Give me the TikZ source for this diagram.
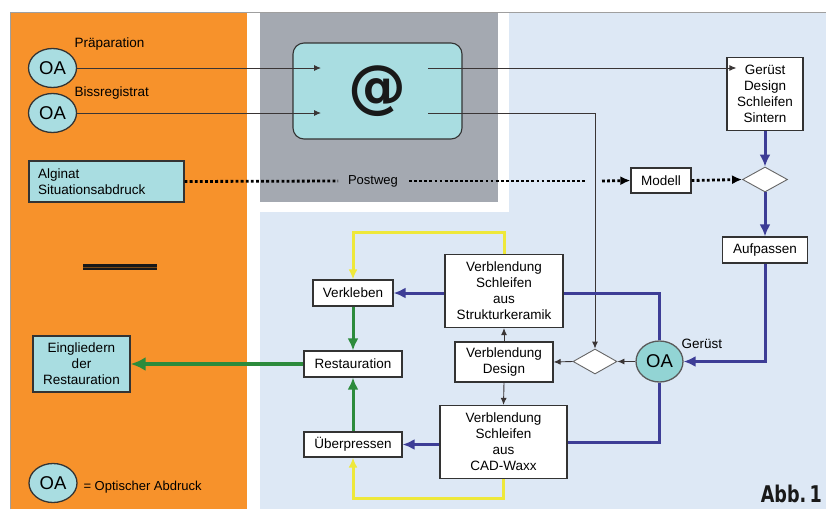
\documentclass[tikz,border=0pt]{standalone}
\usepackage{fontspec}
\setmainfont{Liberation Sans}
\newfontfamily\heavyfont{DejaVu Sans}
\newfontfamily\condfont{DejaVu Sans Condensed}
\usetikzlibrary{shapes.geometric,arrows.meta}

\definecolor{orangebg}{HTML}{F7922B}
\definecolor{skybg}{HTML}{DDE8F5}
\definecolor{panelgray}{HTML}{A4A9B1}
\definecolor{cyanfill}{HTML}{A9DDE1}
\definecolor{oateal}{HTML}{92D4D4}
\definecolor{flowblue}{HTML}{3D3D96}
\definecolor{flowgreen}{HTML}{2C8B3C}
\definecolor{flowyellow}{HTML}{EEE83A}
\definecolor{linedark}{HTML}{3A3535}
\definecolor{boxedge}{HTML}{333333}

\begin{document}
\begin{tikzpicture}[x=1pt,y=-1pt,
  txt/.style={font=\fontsize{13.5}{16}\selectfont},
  wbox/.style={draw=boxedge, line width=1.2pt, fill=white, inner sep=0pt,
               align=center, txt},
  cbox/.style={wbox, fill=cyanfill},
  oanode/.style={ellipse, draw=boxedge, line width=1.3pt, fill=cyanfill,
                 inner sep=0pt, minimum width=48, minimum height=39,
                 font=\fontsize{18.5}{18.5}\selectfont},
  rhomb/.style={diamond, draw=gray!80!black, line width=0.9pt, fill=white,
                inner sep=0pt},
  thin/.style={draw=linedark, line width=0.9pt},
  thinarrow/.style={thin, -{Latex[length=7pt,width=6pt]}},
  blueflow/.style={draw=flowblue, line width=3pt},
  bluearrow/.style={blueflow, -{Latex[length=12pt,width=11pt]}},
  greenarrow/.style={draw=flowgreen, line width=3pt, -{Latex[length=12pt,width=11pt]}},
  yellowarrow/.style={draw=flowyellow, line width=3pt, -{Latex[length=10pt,width=9pt]}},
  postline/.style={draw=black, line width=2.8pt, dash pattern=on 2.8pt off 2.3pt},
]
\useasboundingbox (0,0) rectangle (826,509);

% background panels
\fill[white] (0,0) rectangle (826,509);
\fill[skybg] (247,12) rectangle (826,509);
\fill[white] (247,12) rectangle (260,509);
\fill[white] (260,12) rectangle (509,212);
\fill[panelgray] (260,12) rectangle (498,202);
\fill[orangebg] (10,12) rectangle (247,509);
\draw[gray!75, line width=0.8pt] (10,509) -- (10,12) -- (826,12);

% digital mailbox
\node[draw=boxedge, line width=1.1pt, fill=cyanfill, rounded corners=11,
      minimum width=169, minimum height=96, inner sep=0pt,
      font=\heavyfont\bfseries\fontsize{58}{58}\selectfont, text=black!90] (mail) at (377.5,91) {@};
\coordinate (mailin1) at (321,68);
\coordinate (mailin2) at (321,113);
\coordinate (mailout1) at (428,68);
\coordinate (mailout2) at (428,113);

% optical impressions
\node[oanode] (oa1) at (52.5,68) {OA};
\node[oanode] (oa2) at (52.5,113) {OA};
\node[txt, anchor=west] (lprep) at (71,44) {Präparation};
\node[txt, anchor=west] (lbiss) at (71,93) {Bissregistrat};

% conventional impression
\node[cbox, minimum width=155, minimum height=41, align=left,
      text width=137, inner xsep=9pt] (alginat) at (106.5,181.5)
      {Alginat\\Situationsabdruck};
\node[font=\fontsize{13}{15}\selectfont] (postweg) at (373,181) {Postweg};

% lab side, top
\node[wbox, minimum width=76, minimum height=73] (geruest) at (765,94)
      {Gerüst\\Design\\Schleifen\\Sintern};
\node[wbox, minimum width=60, minimum height=25] (modell) at (661,180.5) {Modell};
\node[rhomb, minimum width=45, minimum height=25] (dtop) at (765,179.5) {};
\node[wbox, minimum width=85, minimum height=26] (aufpassen) at (765,250) {Aufpassen};

% framework scan and veneering
\node[oanode, fill=oateal, draw=gray!70!black, minimum width=47, minimum height=41]
      (oag) at (659.5,361.5) {OA};
\node[txt, anchor=west] (lger) at (678,344) {Gerüst};
\node[rhomb, minimum width=44, minimum height=25] (dsmall) at (595,361.5) {};
\node[wbox, minimum width=98, minimum height=40] (design) at (504,362)
      {Verblendung\\Design};
\node[wbox, minimum width=118, minimum height=73] (struktur) at (504,291)
      {Verblendung\\Schleifen\\aus\\Strukturkeramik};
\node[wbox, minimum width=127, minimum height=73] (cad) at (503.5,442)
      {Verblendung\\Schleifen\\aus\\CAD-Waxx};
\node[wbox, minimum width=80, minimum height=26] (verkleben) at (353,293) {Verkleben};
\node[wbox, minimum width=98, minimum height=26] (restauration) at (353,364) {Restauration};
\node[wbox, minimum width=98, minimum height=25] (ueber) at (353,444.5) {Überpressen};
\node[cbox, minimum width=97, minimum height=56] (eingl) at (81.5,364)
      {Eingliedern\\der\\Restauration};

% legend and caption
\draw[draw=black!90, line width=2.6pt, double=black!50!orangebg, double distance=1pt]
      (83,267) -- (157,267);
\node[oanode] (oalegend) at (53,483) {OA};
\node[anchor=west, font=\fontsize{13}{15}\selectfont] (llegend) at (80,487)
      {= Optischer Abdruck};
\node[anchor=east, inner sep=0pt, text=black!90,
      font=\condfont\bfseries\fontsize{23}{23}\selectfont]
      (abb) at (822,494) {\scalebox{0.85}[1]{Abb.\,1}};

% data transfer
\draw[thinarrow] (oa1.east) -- (oa1.east -| mailin1);
\draw[thinarrow] (oa2.east) -- (oa2.east -| mailin2);
\draw[thinarrow] (mailout1) -- ([xshift=10pt]geruest.west |- mailout1);
\draw[thinarrow] (mailout2) -| (dsmall.north);

% postal route
\draw[postline] (alginat.east) -- ([xshift=-35pt]postweg.center);
\draw[postline] ([xshift=36pt]postweg.center) -- ([xshift=-8pt]postweg.center -| dsmall);
\draw[postline, -{Latex[length=10pt,width=9pt]}] ([xshift=7pt]postweg.center -| dsmall) -- (modell.west);
\draw[postline, -{Latex[length=10pt,width=9pt]}] (modell.east) -- (dtop.west);

% framework route
\draw[bluearrow] (geruest.south) -- (dtop.north);
\draw[bluearrow] (dtop.south) -- (aufpassen.north);
\draw[bluearrow] (aufpassen.south) |- (oag.east);
\draw[blueflow] (oag.north) |- (verkleben.east -| struktur.east);
\draw[bluearrow] (verkleben.east -| struktur.west) -- (verkleben.east);
\draw[blueflow] (oag.south) |- (cad.east);
\draw[bluearrow] (ueber.east -| cad.west) -- (ueber.east);

% design branch
\draw[thinarrow] (oag.west) -- (dsmall.east);
\draw[thinarrow] (dsmall.west) -- (design.east);
\draw[thinarrow] (design.north) -- (struktur.south);
\draw[thinarrow] (design.south) -- (cad.north);

% try-in loops
\draw[yellowarrow] (struktur.north) -- ++(0,-21) -| (verkleben.north);
\draw[yellowarrow] (cad.south) -- ++(0,19) -| (ueber.south);

% finishing
\draw[greenarrow] (verkleben.south) -- (restauration.north);
\draw[greenarrow] (ueber.north) -- (restauration.south);
\draw[draw=flowgreen, line width=4.5pt, -{Latex[length=15pt,width=14pt]}]
      (restauration.west) -- (eingl.east);
\end{tikzpicture}
\end{document}
